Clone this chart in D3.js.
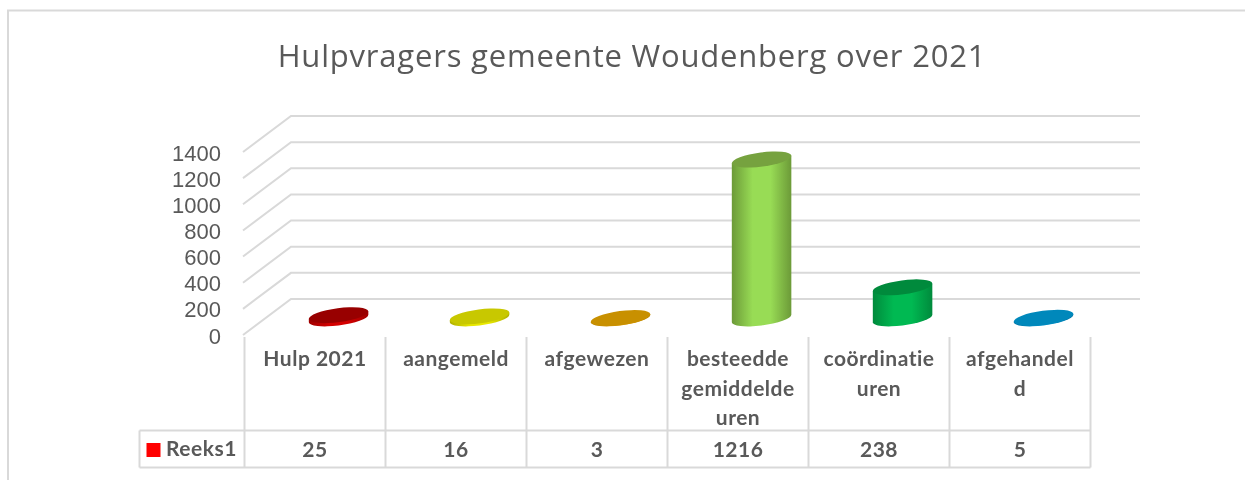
<!DOCTYPE html>
<html>
<head>
<meta charset="utf-8">
<script src="https://d3js.org/d3.v7.min.js"></script>
<style>
  html, body { margin: 0; padding: 0; background: #fff; }
  svg { display: block; filter: blur(0.35px); }
  .lbl { font-family: Lato, sans-serif; font-weight: 700; fill: #595959; font-size: 21px; letter-spacing: 0.5px; }
</style>
</head>
<body>
<div id="viz"></div>
<script>
var categories = ['Hulp 2021', 'aangemeld', 'afgewezen', 'besteedde\ngemiddelde\nuren', 'coördinatie\nuren', 'afgehandel\nd'];
var values = [25, 16, 3, 1216, 238, 5];
var yTicks = [0, 200, 400, 600, 800, 1000, 1200, 1400];
var seriesName = 'Reeks1';
var chartTitle = 'Hulpvragers gemeente Woudenberg over 2021';

var sideColors = ['#d40000', '#e8e800', '#e09c00', '#98dc55', '#00b952', '#0090c8'];
var edgeColors = ['#a00000', '#b0b000', '#b08000', '#6c9a38', '#008a3c', '#0070a0'];
var topColors = ['#980000', '#c8c800', '#c89000', '#76a23f', '#008a3c', '#0088bb'];

var width = 1245, height = 480,
    gridColor = '#d9d9d9',
    depthX = 48, depthY = -36,   // how far the back wall is shifted
    barDepth = 0.46,
    rx = 30, ry = 7, tilt = -7.5 * Math.PI / 180;

var svg = d3.select('#viz').append('svg')
    .attr('width', width)
    .attr('height', height);

// outer frame, only left and top fall inside the picture
svg.append('path')
    .attr('d', 'M8,480V10.5H1245')
    .attr('fill', 'none')
    .attr('stroke', gridColor)
    .attr('stroke-width', 2);

svg.append('text')
    .attr('x', 632)
    .attr('y', 67)
    .attr('text-anchor', 'middle')
    .style('font-family', '"Open Sans"')
    .style('font-size', '31px')
    .style('letter-spacing', '0.8px')
    .style('fill', '#595959')
    .text(chartTitle);

var x = d3.scaleBand().domain(d3.range(categories.length)).range([244.5, 1090.5]);
var y = d3.scaleLinear().domain([0, 1400]).range([335, 152]);

// walls
var grid = svg.append('g').attr('stroke', gridColor).attr('stroke-width', 2).attr('fill', 'none');
grid.selectAll('path').data(yTicks).enter().append('path')
    .attr('d', function(d) {
      return 'M243,' + y(d) + 'L' + (243 + depthX) + ',' + (y(d) + depthY) + 'H1140';
    });

// value axis
var yAxis = svg.append('g')
    .attr('transform', 'translate(224,1)')
    .call(d3.axisLeft(y).tickValues(yTicks).tickSize(0).tickFormat(d3.format('d')));
yAxis.select('.domain').remove();
yAxis.selectAll('text')
    .style('font-family', '"Liberation Sans"')
    .style('font-size', '22px')
    .style('fill', '#595959');

// gradients for the cylinder sides
var defs = svg.append('defs');
values.forEach(function(v, i) {
  var g = defs.append('linearGradient').attr('id', 'side' + i);
  g.append('stop').attr('offset', '0%').attr('stop-color', edgeColors[i]);
  g.append('stop').attr('offset', '35%').attr('stop-color', sideColors[i]);
  g.append('stop').attr('offset', '65%').attr('stop-color', sideColors[i]);
  g.append('stop').attr('offset', '100%').attr('stop-color', edgeColors[i]);
});

// tangent point of the tilted ellipse, where the cylinder side starts
var t = Math.atan2(-ry * Math.sin(tilt), rx * Math.cos(tilt));
var tanX = rx * Math.cos(t) * Math.cos(tilt) - ry * Math.sin(t) * Math.sin(tilt);
var tanY = rx * Math.cos(t) * Math.sin(tilt) + ry * Math.sin(t) * Math.cos(tilt);

function cx(i) { return x(i) + x.bandwidth() / 2 + depthX * barDepth + 1.5; }
function cy(v) { return y(v) + depthY * barDepth; }

var bars = svg.selectAll('.bar').data(values).enter().append('g').attr('class', 'bar');

bars.append('path')
    .attr('fill', function(d, i) { return 'url(#side' + i + ')'; })
    .attr('d', function(d, i) {
      var deg = tilt * 180 / Math.PI;
      var xl = cx(i) - tanX, xr = cx(i) + tanX,
          base = cy(0), top = cy(d);
      return 'M' + xl + ',' + (top - tanY)
        + 'L' + xl + ',' + (base - tanY)
        + 'A' + rx + ',' + ry + ' ' + deg + ' 0 0 ' + xr + ',' + (base + tanY)
        + 'L' + xr + ',' + (top + tanY) + 'Z';
    });

bars.append('ellipse')
    .attr('rx', rx)
    .attr('ry', ry)
    .attr('transform', function(d, i) {
      return 'translate(' + cx(i) + ',' + cy(d) + ') rotate(' + (tilt * 180 / Math.PI) + ')';
    })
    .attr('fill', function(d, i) { return topColors[i]; });

// data table under the chart
var rowTop = 430.5, rowBottom = 467.5, tableLeft = 139.5;
var table = svg.append('g').attr('stroke', gridColor).attr('stroke-width', 2).attr('fill', 'none');
table.append('path').attr('d', 'M' + tableLeft + ',' + rowTop + 'H' + x.range()[1]);
table.append('path').attr('d', 'M' + tableLeft + ',' + rowBottom + 'H' + x.range()[1]);
table.append('path').attr('d', 'M' + tableLeft + ',' + rowTop + 'V' + rowBottom);
table.selectAll('.v').data(d3.range(categories.length + 1)).enter().append('path')
    .attr('class', 'v')
    .attr('d', function(i) {
      return 'M' + (x.range()[0] + i * x.bandwidth()) + ',337V' + rowBottom;
    });

var catLabels = svg.selectAll('.cat').data(categories).enter().append('text')
    .attr('class', 'cat lbl')
    .attr('text-anchor', 'middle');
catLabels.each(function(d, i) {
  d3.select(this).selectAll('tspan').data(d.split('\n')).enter().append('tspan')
      .attr('x', x(i) + x.bandwidth() / 2)
      .attr('y', function(s, j) { return 366 + j * 29.5; })
      .text(function(s) { return s; });
});

svg.selectAll('.val').data(values).enter().append('text')
    .attr('class', 'val lbl')
    .attr('text-anchor', 'middle')
    .attr('x', function(d, i) { return x(i) + x.bandwidth() / 2; })
    .attr('y', 457)
    .text(function(d) { return d; });

// legend key in the table
svg.append('rect')
    .attr('x', 146.5).attr('y', 443)
    .attr('width', 14).attr('height', 14)
    .attr('fill', '#ff0000');
svg.append('text')
    .attr('class', 'lbl')
    .attr('x', 166)
    .attr('y', 456)
    .text(seriesName);
</script>
</body>
</html>
